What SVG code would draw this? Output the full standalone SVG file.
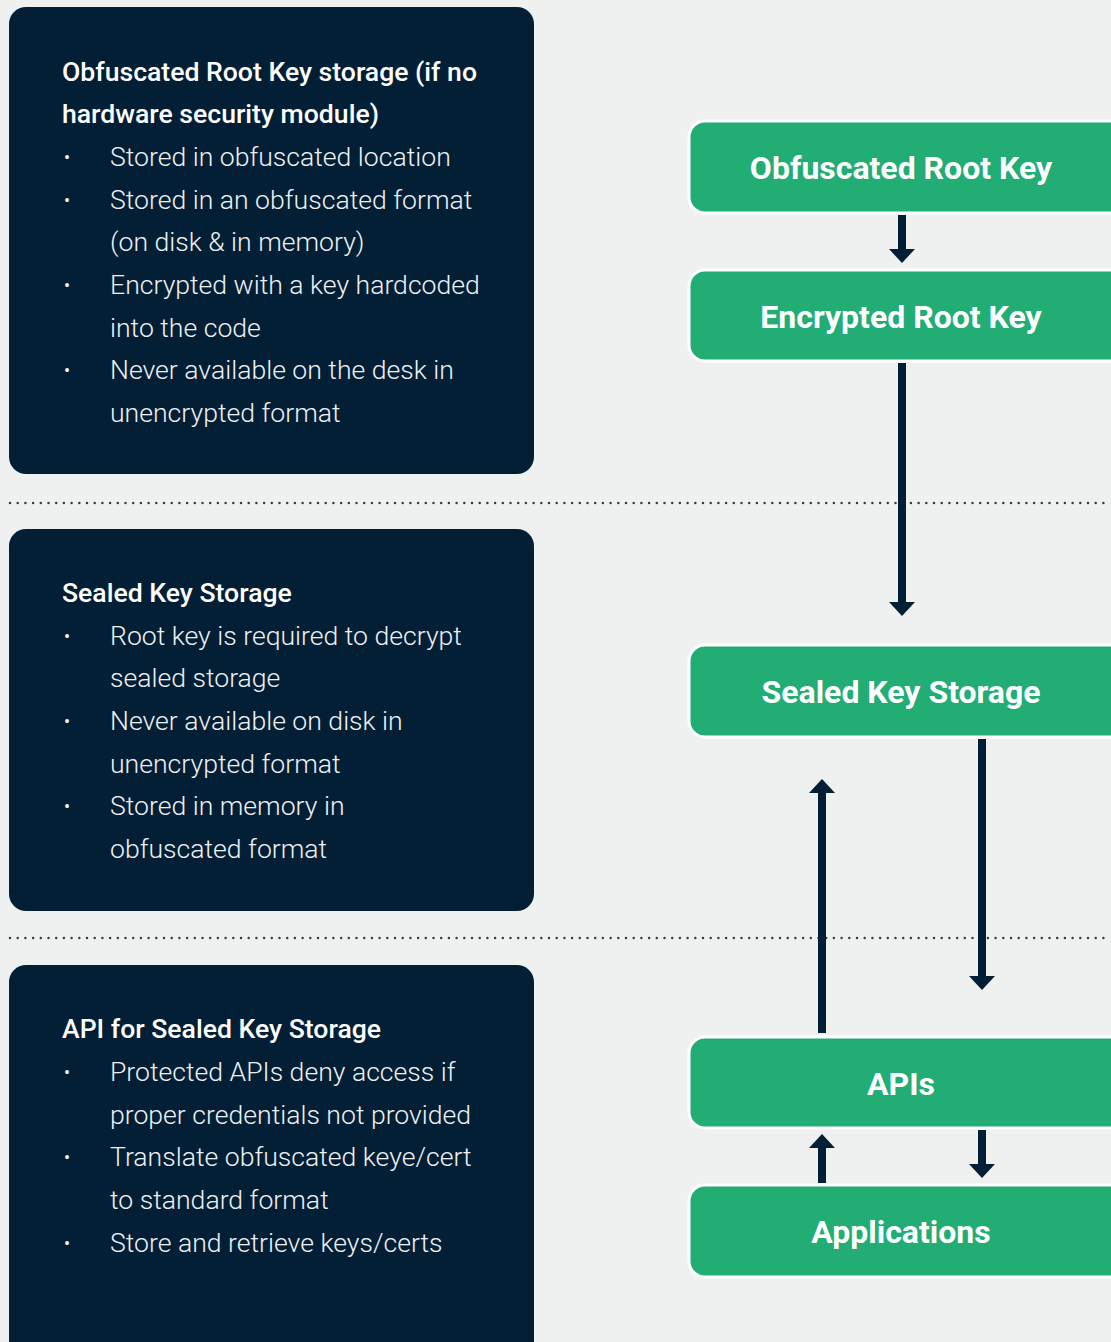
<svg xmlns="http://www.w3.org/2000/svg" width="1111" height="1342" viewBox="0 0 1111 1342">
<style>
.panel{fill:#031f35}
.node{fill:#22ad75;stroke:#ffffff;stroke-width:3}
.ntext{font-family:Roboto,"Liberation Sans",sans-serif;font-weight:700;font-size:32px;fill:#ffffff;text-anchor:middle}
.title{font-family:Roboto,"Liberation Sans",sans-serif;font-weight:500;font-size:26.6px;fill:#ffffff}
.body{font-family:Roboto,"Liberation Sans",sans-serif;font-weight:300;font-size:26.6px;fill:#eef1f4}
.bul{font-family:Roboto,"Liberation Sans",sans-serif;font-size:18px;fill:#eef1f4}
.sep{stroke:#333b44;stroke-width:2.5;stroke-dasharray:0 7.7;stroke-linecap:round;fill:none}
.conn{stroke:#031f35;stroke-width:8;fill:none}
</style>
<defs>
<marker id="ah" viewBox="0 0 14 26" refX="0" refY="13" markerWidth="14" markerHeight="26" markerUnits="userSpaceOnUse" orient="auto">
<path d="M0,0 L14,13 L0,26 Z" fill="#031f35"/>
</marker>
</defs>
<rect width="1111" height="1342" fill="#eff1f0"/>
<line class="sep" x1="10" y1="503" x2="1111" y2="503"/>
<line class="sep" x1="10" y1="938" x2="1111" y2="938"/>

<g id="panel-obfuscated">
<rect class="panel" x="9" y="7" width="525" height="467" rx="17"/>
<text class="title" x="62" y="81">Obfuscated Root Key storage (if no</text>
<text class="title" x="62" y="123">hardware security module)</text>
<text class="bul" x="64" y="164">•</text><text class="body" x="110" y="166">Stored in obfuscated location</text>
<text class="bul" x="64" y="207">•</text><text class="body" x="110" y="209">Stored in an obfuscated format</text>
<text class="body" x="110" y="251">(on disk &amp; in memory)</text>
<text class="bul" x="64" y="292">•</text><text class="body" x="110" y="294">Encrypted with a key hardcoded</text>
<text class="body" x="110" y="337">into the code</text>
<text class="bul" x="64" y="377">•</text><text class="body" x="110" y="379">Never available on the desk in</text>
<text class="body" x="110" y="422">unencrypted format</text>
</g>

<g id="panel-sealed">
<rect class="panel" x="9" y="529" width="525" height="382" rx="17"/>
<text class="title" x="62" y="602">Sealed Key Storage</text>
<text class="bul" x="64" y="643">•</text><text class="body" x="110" y="645">Root key is required to decrypt</text>
<text class="body" x="110" y="687">sealed storage</text>
<text class="bul" x="64" y="728">•</text><text class="body" x="110" y="730">Never available on disk in</text>
<text class="body" x="110" y="773">unencrypted format</text>
<text class="bul" x="64" y="813">•</text><text class="body" x="110" y="815">Stored in memory in</text>
<text class="body" x="110" y="858">obfuscated format</text>
</g>

<g id="panel-api">
<rect class="panel" x="9" y="965" width="525" height="400" rx="17"/>
<text class="title" x="62" y="1038">API for Sealed Key Storage</text>
<text class="bul" x="64" y="1079">•</text><text class="body" x="110" y="1081">Protected APIs deny access if</text>
<text class="body" x="110" y="1124">proper credentials not provided</text>
<text class="bul" x="64" y="1164">•</text><text class="body" x="110" y="1166">Translate obfuscated keye/cert</text>
<text class="body" x="110" y="1209">to standard format</text>
<text class="bul" x="64" y="1250">•</text><text class="body" x="110" y="1252">Store and retrieve keys/certs</text>
</g>

<g id="node-obfuscated-root-key">
<rect class="node" x="689" y="121" width="436" height="92" rx="16"/>
<text class="ntext" x="901" y="179">Obfuscated Root Key</text>
</g>
<g id="node-encrypted-root-key">
<rect class="node" x="689" y="270" width="436" height="91" rx="16"/>
<text class="ntext" x="901" y="328">Encrypted Root Key</text>
</g>
<g id="node-sealed-key-storage">
<rect class="node" x="689" y="645" width="436" height="92" rx="16"/>
<text class="ntext" x="901" y="703">Sealed Key Storage</text>
</g>
<g id="node-apis">
<rect class="node" x="689" y="1037" width="436" height="91" rx="16"/>
<text class="ntext" x="901" y="1095">APIs</text>
</g>
<g id="node-applications">
<rect class="node" x="689" y="1185" width="436" height="92" rx="16"/>
<text class="ntext" x="901" y="1243">Applications</text>
</g>

<g id="connectors">
<line class="conn" x1="902" y1="215" x2="902" y2="249" marker-end="url(#ah)"/>
<line class="conn" x1="902" y1="363" x2="902" y2="602" marker-end="url(#ah)"/>
<line class="conn" x1="982" y1="739" x2="982" y2="976" marker-end="url(#ah)"/>
<line class="conn" x1="822" y1="1033" x2="822" y2="793" marker-end="url(#ah)"/>
<line class="conn" x1="982" y1="1130" x2="982" y2="1164" marker-end="url(#ah)"/>
<line class="conn" x1="822" y1="1183" x2="822" y2="1148" marker-end="url(#ah)"/>
</g>
</svg>
